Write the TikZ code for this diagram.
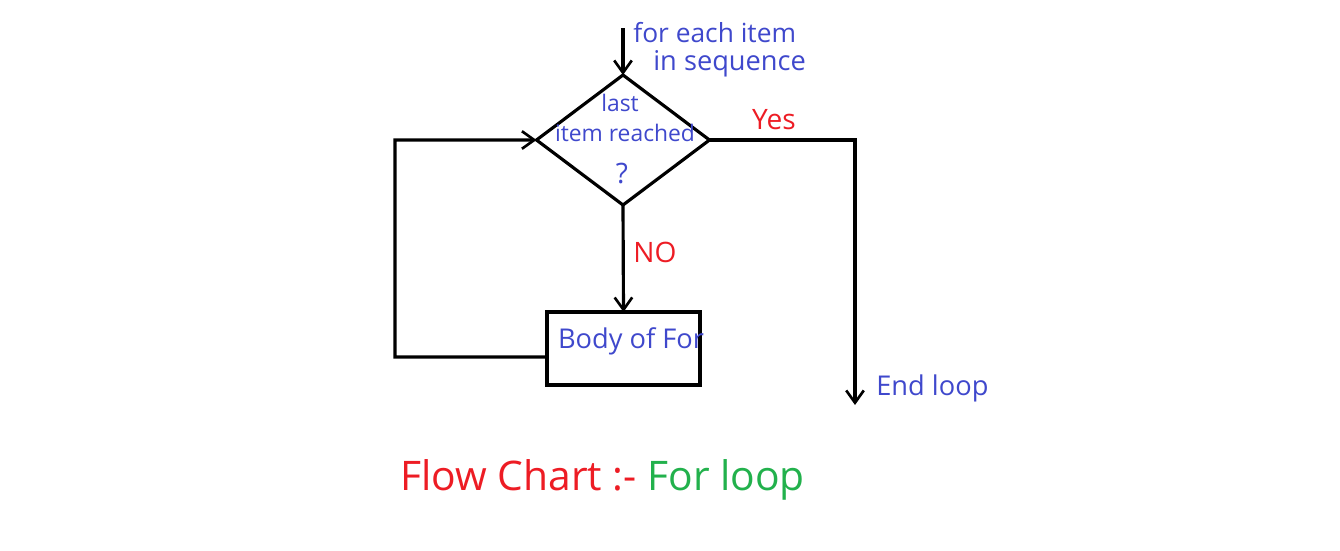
\documentclass[tikz,border=0pt]{standalone}
\usepackage{fontspec}
\setmainfont{Open Sans}
\usetikzlibrary{shapes.geometric,arrows.meta}
\definecolor{pblue}{RGB}{63,72,204}
\definecolor{pred}{RGB}{237,28,36}
\definecolor{pgreen}{RGB}{34,177,76}
\tikzset{
  conn/.style={line width=1.8pt, line join=miter},
  arr/.style={conn, -{Straight Barb[length=7pt,width=10pt,line width=1.5pt]}},
  bluetxt/.style={text=pblue, inner sep=0pt},
  redtxt/.style={text=pred, inner sep=0pt},
}
\begin{document}
\begin{tikzpicture}[x=0.02cm,y=-0.02cm]
\useasboundingbox (0,0) rectangle (1340,551);
% shapes
\node[diamond, draw, conn, minimum width=3.46cm, minimum height=2.6cm, inner sep=0pt, outer sep=0pt] (dec) at (623,140) {};
\node[draw, conn, minimum width=3.06cm, minimum height=1.46cm, inner sep=0pt, outer sep=0pt] (body) at (623.5,348.5) {};
% texts
\node[bluetxt, anchor=west] (t1) at (633,33) {\fontsize{15}{17}\selectfont for each item};
\node[bluetxt, anchor=west] (t2) at (653,64) {\fontsize{15.5}{17}\selectfont in sequence};
\node[bluetxt] (d1) at (620,103) {\fontsize{13}{15}\selectfont last};
\node[bluetxt] (d2) at (625,133) {\fontsize{13}{15}\selectfont item reached};
\node[bluetxt] (d3) at (622,174) {\fontsize{16}{18}\selectfont ?};
\node[bluetxt] (bt) at (631,341) {\fontsize{15.5}{18}\selectfont Body of For};
\node[redtxt] (yes) at (774,120) {\fontsize{16}{18}\selectfont Yes};
\node[redtxt] (no) at (655,252) {\fontsize{16}{18}\selectfont NO};
\node[bluetxt, anchor=west] (endl) at (876,388) {\fontsize{15.5}{18}\selectfont End loop};
\node[inner sep=0pt, anchor=base west] (title) at (400,490) {\fontsize{23.2}{28}\selectfont\color{pred}Flow Chart :- \color{pgreen}For loop};
% connectors
\coordinate (start) at (623,28);
\coordinate (corner) at (855,140);
\coordinate (endpt) at (855,405);
\coordinate (lb) at (395,357);
\coordinate (lt) at (395,140);
\draw[arr] (start) -- (dec.north);
\draw[arr] (dec.east) -- (corner) -- (endpt);
\draw[arr] (dec.south) -- (body.north);
\draw[arr] ([yshift=-8.5*0.02cm]body.west) -- (lb) -- (lt) -- (dec.west);
\end{tikzpicture}
\end{document}
